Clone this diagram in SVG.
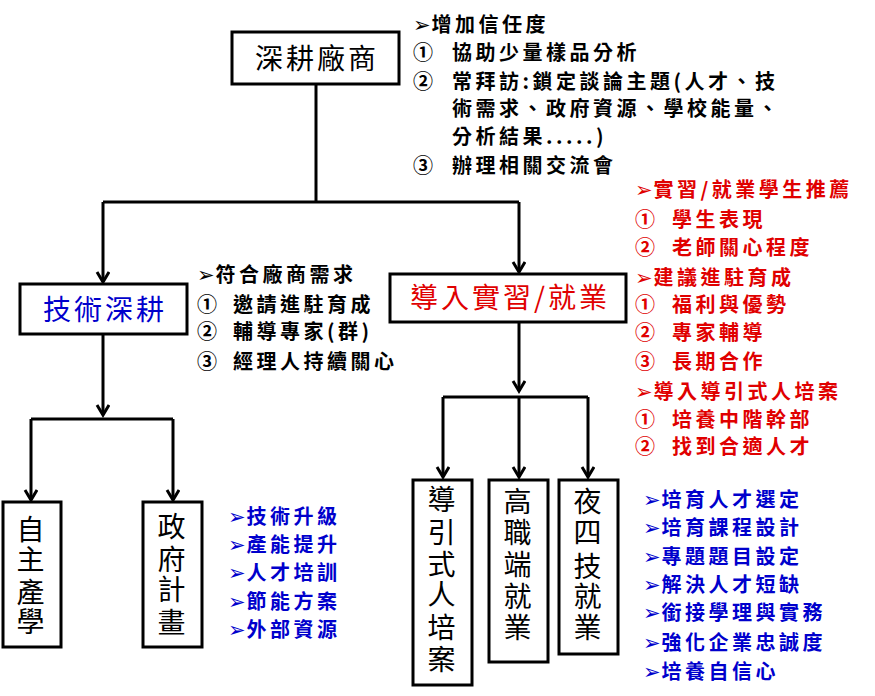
<svg xmlns="http://www.w3.org/2000/svg" width="875" height="696" viewBox="0 0 875 696">
<defs>
<style>
.box{fill:#fff;stroke:#000;stroke-width:3}
.ln{fill:none;stroke:#000;stroke-width:3}
.lbl{font-family:"Noto Sans CJK TC","Noto Sans CJK SC",sans-serif;font-size:28px;letter-spacing:3px}
.li{font-family:"Noto Sans CJK TC","Noto Sans CJK SC",sans-serif;font-size:20px;font-weight:bold;letter-spacing:3.5px}
.ar{font-family:"DejaVu Sans",sans-serif;font-size:21px;letter-spacing:1px}
.blk{fill:#000}.red{fill:#e00000}.blu{fill:#0000cc}
</style>
<marker id="ah" markerUnits="userSpaceOnUse" markerWidth="16" markerHeight="16" refX="12" refY="7" orient="auto">
<path d="M2,1 L12,7 L2,13" fill="none" stroke="#000" stroke-width="3"/>
</marker>
</defs>
<rect width="875" height="696" fill="#fff"/>

<g id="connectors">
<path class="ln" d="M316,84 V202"/>
<path class="ln" d="M103,202 H519"/>
<path class="ln" d="M103,202 V282" marker-end="url(#ah)"/>
<path class="ln" d="M519,202 V272" marker-end="url(#ah)"/>
<path class="ln" d="M103,334 V415" marker-end="url(#ah)"/>
<path class="ln" d="M31,419 H173"/>
<path class="ln" d="M31,419 V500" marker-end="url(#ah)"/>
<path class="ln" d="M173,419 V500" marker-end="url(#ah)"/>
<path class="ln" d="M519,322 V391" marker-end="url(#ah)"/>
<path class="ln" d="M443,397 H588"/>
<path class="ln" d="M443,397 V477" marker-end="url(#ah)"/>
<path class="ln" d="M519,397 V477" marker-end="url(#ah)"/>
<path class="ln" d="M588,397 V477" marker-end="url(#ah)"/>
</g>

<g id="node-shengeng">
<rect class="box" x="232" y="32" width="167" height="52"/>
<text class="lbl blk" x="317" y="69" text-anchor="middle">深耕廠商</text>
</g>

<g id="node-jishu">
<rect class="box" x="20" y="284" width="167" height="50"/>
<text class="lbl blu" x="105" y="320" text-anchor="middle">技術深耕</text>
</g>

<g id="node-shixi">
<rect class="box" x="390" y="274" width="236" height="48"/>
<text class="lbl red" x="510" y="308" text-anchor="middle">導入實習/就業</text>
</g>

<g id="node-zizhu" class="lbl blk" text-anchor="middle">
<rect class="box" x="3" y="502" width="58" height="145"/>
<text x="32" y="540">自</text><text x="32" y="570">主</text><text x="32" y="603">產</text><text x="32" y="632">學</text>
</g>

<g id="node-zhengfu" class="lbl blk" text-anchor="middle">
<rect class="box" x="143" y="502" width="59" height="145"/>
<text x="173" y="537">政</text><text x="173" y="570">府</text><text x="173" y="600">計</text><text x="173" y="633">畫</text>
</g>

<g id="node-daoyin" class="lbl blk" text-anchor="middle">
<rect class="box" x="413" y="480" width="59" height="205"/>
<text x="443" y="510">導</text><text x="443" y="543">引</text><text x="443" y="575">式</text><text x="443" y="605">人</text><text x="443" y="638">培</text><text x="443" y="670">案</text>
</g>

<g id="node-gaozhi" class="lbl blk" text-anchor="middle">
<rect class="box" x="489" y="480" width="59" height="182"/>
<text x="519" y="512">高</text><text x="519" y="543">職</text><text x="519" y="575">端</text><text x="519" y="607">就</text><text x="519" y="638">業</text>
</g>

<g id="node-yesi" class="lbl blk" text-anchor="middle">
<rect class="box" x="559" y="480" width="59" height="174"/>
<text x="589" y="512">夜</text><text x="589" y="543">四</text><text x="589" y="577">技</text><text x="589" y="607">就</text><text x="589" y="638">業</text>
</g>

<g id="note-top" class="li blk">
<text x="413" y="32"><tspan class="ar">➢</tspan>增加信任度</text>
<text x="413" y="60">①</text><text x="452" y="60">協助少量樣品分析</text>
<text x="413" y="89">②</text><text x="452" y="89">常拜訪:鎖定談論主題(人才、技</text>
<text x="452" y="116">術需求、政府資源、學校能量、</text>
<text x="452" y="144">分析結果.....)</text>
<text x="413" y="173">③</text><text x="452" y="173">辦理相關交流會</text>
</g>

<g id="note-mid" class="li blk">
<text x="197" y="282"><tspan class="ar">➢</tspan>符合廠商需求</text>
<text x="197" y="312">①</text><text x="233" y="312">邀請進駐育成</text>
<text x="197" y="339">②</text><text x="233" y="339">輔導專家(群)</text>
<text x="197" y="369">③</text><text x="233" y="369">經理人持續關心</text>
</g>

<g id="note-red" class="li red">
<text x="635" y="197"><tspan class="ar">➢</tspan>實習/就業學生推薦</text>
<text x="635" y="227">①</text><text x="672" y="227">學生表現</text>
<text x="635" y="255">②</text><text x="672" y="255">老師關心程度</text>
<text x="635" y="285"><tspan class="ar">➢</tspan>建議進駐育成</text>
<text x="635" y="312">①</text><text x="672" y="312">福利與優勢</text>
<text x="635" y="340">②</text><text x="672" y="340">專家輔導</text>
<text x="635" y="369">③</text><text x="672" y="369">長期合作</text>
<text x="635" y="399"><tspan class="ar">➢</tspan>導入導引式人培案</text>
<text x="635" y="427">①</text><text x="672" y="427">培養中階幹部</text>
<text x="635" y="454">②</text><text x="672" y="454">找到合適人才</text>
</g>

<g id="note-blue-left" class="li blu">
<text x="228" y="524"><tspan class="ar">➢</tspan>技術升級</text>
<text x="228" y="552"><tspan class="ar">➢</tspan>產能提升</text>
<text x="228" y="580"><tspan class="ar">➢</tspan>人才培訓</text>
<text x="228" y="609"><tspan class="ar">➢</tspan>節能方案</text>
<text x="228" y="637"><tspan class="ar">➢</tspan>外部資源</text>
</g>

<g id="note-blue-right" class="li blu">
<text x="643" y="507"><tspan class="ar">➢</tspan>培育人才選定</text>
<text x="643" y="535"><tspan class="ar">➢</tspan>培育課程設計</text>
<text x="643" y="564"><tspan class="ar">➢</tspan>專題題目設定</text>
<text x="643" y="592"><tspan class="ar">➢</tspan>解決人才短缺</text>
<text x="643" y="620"><tspan class="ar">➢</tspan>銜接學理與實務</text>
<text x="643" y="650"><tspan class="ar">➢</tspan>強化企業忠誠度</text>
<text x="643" y="679"><tspan class="ar">➢</tspan>培養自信心</text>
</g>
</svg>
